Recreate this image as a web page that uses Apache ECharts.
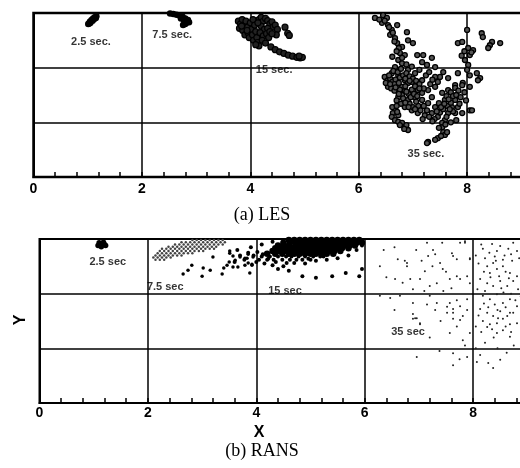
<!DOCTYPE html>
<html><head><meta charset="utf-8">
<script src="https://cdn.jsdelivr.net/npm/echarts@6/dist/echarts.min.js"></script>
<style>html,body{margin:0;padding:0;background:#fff}#c{width:520px;height:468px}</style>
</head><body><div id="c"></div><script>
// ---------- (a) LES ----------
const les25 = [[1.01,2.80],[1.04,2.84],[1.07,2.87],[1.10,2.90],[1.13,2.92],[1.16,2.94],[1.05,2.82],[1.09,2.86],[1.12,2.89],[1.03,2.81],[1.15,2.91]];
const les75 = [[2.52,2.99],[2.58,2.98],[2.64,2.97],[2.70,2.95],[2.75,2.93],[2.80,2.90],[2.85,2.87],[2.82,2.82],[2.78,2.86],[2.72,2.90],[2.87,2.83],[2.76,2.78],[2.80,2.80]];
const les15 = [[3.78,2.85],[3.82,2.80],[3.80,2.72],[3.85,2.88],[3.88,2.78],[3.86,2.68],[3.90,2.60],[3.92,2.85],[3.95,2.74],[3.96,2.64],[3.98,2.55],[4.00,2.82],[4.02,2.70],[4.04,2.60],[4.06,2.50],[4.08,2.78],[4.10,2.66],[4.12,2.55],[4.14,2.46],
 [4.16,2.88],[4.20,2.92],[4.24,2.85],[4.28,2.90],[4.32,2.86],[4.36,2.80],[4.40,2.84],[4.42,2.74],[4.46,2.78],[4.50,2.70],[4.20,2.76],[4.26,2.70],[4.32,2.72],[4.18,2.64],[4.24,2.58],[4.30,2.62],[4.36,2.66],[4.22,2.50],[4.28,2.45],[4.16,2.40],[4.10,2.42],[4.34,2.55],[4.48,2.60],[4.05,2.88],[3.84,2.76],[3.94,2.68],[4.14,2.82],[4.40,2.62],
 [4.38,2.38],[4.46,2.33],[4.54,2.29],[4.62,2.26],[4.70,2.23],[4.78,2.21],[4.86,2.19],[4.92,2.18],[4.96,2.19],[4.90,2.21],
 [4.64,2.74],[4.69,2.63],[4.72,2.59]];
const les35 = [
 [6.30,2.91],[6.45,2.96],[6.52,2.91],[6.43,2.82],[6.54,2.78],[6.61,2.69],[6.71,2.78],[6.58,2.60],[6.67,2.54],[6.71,2.45],[6.89,2.65],[6.91,2.50],[7.00,2.45],[6.80,2.38],[6.76,2.27],[6.85,2.23],[6.73,2.14],[7.08,2.23],[7.19,2.23],[7.35,2.18],[7.17,2.10],[7.26,2.05],[7.41,2.01],[7.56,1.92],[7.50,1.83],[7.65,1.81],[7.41,1.83],
 [6.38,2.88],[6.48,2.86],[6.56,2.74],[6.63,2.64],[6.66,2.48],[6.74,2.36],[6.70,2.30],[6.62,2.20],[6.80,2.18],
 [8.00,2.69],[8.27,2.63],[8.29,2.56],[8.46,2.47],[8.42,2.41],[8.39,2.36],[8.61,2.45],[7.83,2.45],[7.91,2.47],[8.02,2.36],[8.11,2.32],[8.05,2.23],[7.96,2.14],[8.02,2.05],[8.00,1.96],[8.05,1.86],[8.18,1.90],[8.24,1.81],[8.20,1.77],[7.83,1.90],[7.92,1.72],[7.78,1.68],[7.95,2.30],[8.08,2.28],[7.90,2.22],
 [6.48,1.83],[6.54,1.77],[6.67,2.01],[6.80,2.08],[6.91,1.96],[7.04,1.90],[7.17,1.77],[6.61,1.90],[6.73,1.86],[6.85,1.77],[6.98,1.74],[6.71,1.68],[6.54,1.65],[7.91,1.68],[7.78,1.63],[7.65,1.59],[7.54,1.54],[7.46,1.74],[7.41,1.65],[7.28,1.59],[7.17,1.54],[7.04,1.46],[6.91,1.41],[6.85,1.28],[6.98,1.22],[7.09,1.17],[7.22,1.13],[7.35,1.17],[7.46,1.10],[7.59,1.04],[7.54,0.99],[7.65,1.17],[7.78,1.17],[7.83,1.28],[7.91,1.17],[8.05,1.22],[7.72,1.28],[7.41,1.28],[7.28,1.35],[7.17,1.41],[7.59,1.41],[7.78,1.41],[7.09,1.59],[7.35,1.46],[6.85,1.59],[6.73,1.46],[6.91,1.72],[6.80,1.65],
 [6.50,1.72],[6.58,1.80],[6.62,1.74],[6.68,1.78],[6.76,1.82],[6.82,1.86],[6.88,1.90],[6.94,1.84],[7.00,1.80],[7.06,1.76],[7.12,1.70],[6.60,1.62],[6.66,1.58],[6.76,1.60],[6.86,1.66],[6.92,1.52],[6.98,1.60],[7.04,1.66],[6.80,1.50],[6.70,1.40],[6.78,1.34],[6.82,1.44],[6.94,1.34],[7.00,1.28],[7.10,1.30],[7.06,1.38],[7.14,1.22],[7.26,1.22],[7.30,1.10],[7.40,1.06],[7.50,1.18],[7.56,1.24],[7.64,1.30],[7.70,1.36],[7.48,1.35],[7.62,1.48],[7.70,1.55],[7.84,1.58],[7.74,1.20],[7.86,1.34],[7.20,1.62],[7.32,1.70],[7.36,1.78],[7.24,1.86],[7.30,1.92],[7.12,1.96],[6.98,2.02],[6.88,2.06],[7.18,1.06],[7.36,1.02],[7.62,1.10],[7.80,1.04],[7.70,1.00],
 [6.56,1.86],[6.64,1.94],[6.72,1.92],[6.78,1.98],[6.86,1.80],[6.94,1.76],[6.66,1.70],[6.74,1.72],[6.58,1.70],[6.68,1.64],[6.74,1.52],[6.88,1.56],[6.96,1.46],[7.02,1.52],[7.08,1.48],[7.12,1.62],[6.86,1.36],[6.92,1.28],[7.04,1.24],[7.20,1.30],[7.44,1.20],[7.52,1.28],[7.68,1.24],[7.58,1.34],[7.66,1.42],[7.74,1.48],[7.80,1.50],[7.88,1.46],
 [6.67,1.22],[6.63,1.17],[6.61,1.10],[6.67,1.04],[6.73,1.01],[6.80,0.99],[6.85,0.91],[6.91,0.86],[6.73,1.13],[6.71,1.19],[6.62,1.28],[6.70,1.30],[6.76,0.95],[6.88,0.95],[6.84,0.88],
 [7.54,0.91],[7.56,0.82],[7.59,0.77],[7.46,0.71],[7.41,0.68],[7.28,0.64],[7.63,0.82],[7.26,0.62],[7.52,0.75],[7.48,0.90],[7.60,0.96],
 [8.05,1.65],[8.09,1.22],[7.98,1.40],[7.95,1.55]];
const lesLabels = [[1.06,2.47,'2.5 sec.'],[2.56,2.59,'7.5 sec.'],[4.44,1.96,'15 sec.'],[7.24,0.42,'35 sec.']];

// ---------- (b) RANS ----------
const rans25 = [[1.08,2.88],[1.12,2.90],[1.16,2.91],[1.20,2.90],[1.14,2.86],[1.10,2.93],[1.18,2.94],[1.22,2.88]];
const rans75Gray = [
 [2.82,2.98],[2.90,2.98],[2.98,2.98],[3.06,2.98],[3.14,2.98],[3.22,2.98],[3.30,2.98],[3.38,2.98],
 [2.62,2.94],[2.70,2.94],[2.78,2.94],[2.86,2.94],[2.94,2.94],[3.02,2.94],[3.10,2.94],[3.18,2.94],[3.26,2.94],[3.34,2.94],[3.42,2.94],
 [2.50,2.90],[2.58,2.90],[2.66,2.90],[2.74,2.90],[2.82,2.90],[2.90,2.90],[2.98,2.90],[3.06,2.90],[3.14,2.90],[3.22,2.90],[3.30,2.90],[3.38,2.90],
 [2.38,2.86],[2.46,2.86],[2.54,2.86],[2.62,2.86],[2.70,2.86],[2.78,2.86],[2.86,2.86],[2.94,2.86],[3.02,2.86],[3.10,2.86],[3.18,2.86],[3.26,2.86],
 [2.26,2.82],[2.34,2.82],[2.42,2.82],[2.50,2.82],[2.58,2.82],[2.66,2.82],[2.74,2.82],[2.82,2.82],[2.90,2.82],[2.98,2.82],[3.06,2.82],[3.14,2.82],[3.22,2.82],
 [2.22,2.78],[2.30,2.78],[2.38,2.78],[2.46,2.78],[2.54,2.78],[2.62,2.78],[2.70,2.78],[2.78,2.78],[2.86,2.78],[2.94,2.78],[3.02,2.78],
 [2.18,2.74],[2.26,2.74],[2.34,2.74],[2.42,2.74],[2.50,2.74],[2.58,2.74],[2.66,2.74],[2.74,2.74],[2.82,2.74],
 [2.14,2.70],[2.22,2.70],[2.30,2.70],[2.38,2.70],[2.46,2.70],[2.54,2.70],[2.62,2.70],
 [2.10,2.66],[2.18,2.66],[2.26,2.66],[2.34,2.66],[2.42,2.66],
 [2.14,2.62],[2.22,2.62],[2.30,2.62]];
const rans75 = [[2.65,2.36],[2.74,2.43],[2.81,2.52],[3.00,2.32],[3.02,2.47],[3.15,2.43],[3.20,2.67],[3.37,2.36],[3.40,2.47],[3.46,2.52],[3.50,2.58],[3.51,2.74],[3.57,2.49],[3.61,2.61],[3.66,2.49],[3.70,2.67],[3.83,2.65],[3.85,2.56],[3.88,2.38],[3.94,2.67],[3.92,2.52],[3.79,2.52],[3.51,2.78],[3.57,2.69],[3.79,2.65],[3.85,2.72],[3.92,2.54]];
const rans15Core = [
 [4.60,2.98],[4.70,2.98],[4.80,2.98],[4.90,2.98],[5.00,2.98],[5.10,2.98],[5.20,2.98],[5.30,2.98],[5.40,2.98],[5.50,2.98],[5.60,2.98],[5.70,2.98],[5.80,2.98],[5.90,2.98],
 [4.50,2.93],[4.62,2.93],[4.75,2.93],[4.85,2.93],[4.95,2.93],[5.05,2.93],[5.15,2.93],[5.25,2.93],[5.35,2.93],[5.45,2.93],[5.55,2.93],[5.65,2.93],[5.75,2.93],[5.85,2.93],[5.95,2.93],
 [4.40,2.88],[4.50,2.88],[4.60,2.88],[4.72,2.88],[4.82,2.88],[4.92,2.88],[5.02,2.88],[5.12,2.88],[5.22,2.88],[5.32,2.88],[5.42,2.88],[5.52,2.88],[5.62,2.88],[5.72,2.88],[5.82,2.88],
 [4.35,2.83],[4.45,2.83],[4.55,2.83],[4.66,2.83],[4.78,2.83],[4.88,2.83],[4.98,2.83],[5.08,2.83],[5.18,2.83],[5.28,2.83],[5.38,2.83],[5.48,2.83],[5.58,2.83],[5.70,2.83],
 [4.30,2.78],[4.42,2.78],[4.52,2.78],[4.62,2.78],[4.74,2.78],[4.84,2.78],[4.94,2.78],[5.04,2.78],[5.14,2.78],[5.24,2.78],[5.34,2.78],[5.44,2.78],[5.55,2.78],
 [4.20,2.73],[4.35,2.73],[4.48,2.73],[4.60,2.73],[4.70,2.73],[4.80,2.73],[4.90,2.73],[5.00,2.73],[5.10,2.73],[5.20,2.73],[5.30,2.73],[5.42,2.73]];
const rans15Scatter = [
 [4.10,2.68],[4.25,2.68],[4.40,2.68],[4.55,2.68],[4.65,2.68],[4.78,2.68],[4.90,2.68],[5.05,2.68],[5.18,2.68],
 [4.05,2.62],[4.20,2.62],[4.32,2.62],[4.48,2.62],[4.62,2.62],[4.85,2.62],[5.00,2.62],
 [3.85,2.75],[3.95,2.70],[3.78,2.62],[4.00,2.58],[4.15,2.55],[4.30,2.52],[4.50,2.50],[4.70,2.56],[4.90,2.55],[5.10,2.60],[5.30,2.62],[5.50,2.65],[5.70,2.70],[5.85,2.80],[5.95,2.88],[4.85,2.32],[5.10,2.29],[5.40,2.32],[5.65,2.38],[5.90,2.32],[5.95,2.45],[4.60,2.42],[4.40,2.45],[3.70,2.70],[3.60,2.58],[3.90,2.85],[4.10,2.90],[4.30,2.95],[3.65,2.80],
 [4.02,2.76],[4.12,2.72],[4.22,2.64],[4.36,2.58],[4.56,2.56],[4.74,2.62],[4.96,2.64],[5.24,2.68]];
const rans35 = [
 [6.28,2.50],[6.56,2.27],[6.61,2.63],[6.74,2.60],[6.78,2.50],[6.84,2.27],[7.02,2.27],[7.11,2.41],[7.17,2.69],[7.30,2.72],[7.39,2.56],[7.44,2.45],[7.57,2.27],[7.63,2.69],[7.70,2.63],[7.70,2.32],[7.76,2.27],[7.85,2.96],[7.94,2.63],[7.89,2.32],[7.94,2.19],[7.20,2.14],[7.33,2.19],[6.89,2.08],[6.28,1.96],[6.47,1.92],[6.65,1.96],[6.89,1.83],[7.20,1.96],[7.33,1.83],[7.57,1.83],[7.63,1.72],[7.76,1.77],[7.63,1.54],[7.81,1.59],[7.89,1.90],[7.52,1.65],[6.89,1.63],[6.96,1.55],[6.89,1.54],[7.02,1.44],
 [8.18,2.82],[8.35,2.91],[8.44,2.78],[8.50,2.87],[8.74,2.93],[8.81,2.78],[8.26,2.50],[8.37,2.56],[8.44,2.45],[8.31,2.38],[8.55,2.50],[8.68,2.38],[8.81,2.32],[8.13,2.27],[8.26,2.19],[8.37,2.14],[8.50,2.23],[8.63,2.14],[8.74,2.23],[8.83,2.08],[8.18,1.96],[8.31,1.90],[8.44,1.99],[8.55,1.83],[8.68,1.90],[8.81,1.77],[8.13,1.72],[8.26,1.65],[8.37,1.59],[8.50,1.68],[8.63,1.59],[8.74,1.65],[8.18,1.50],[8.31,1.44],[8.44,1.46],[8.55,1.54],[8.68,1.44],
 [6.93,1.55],[7.02,1.46],[6.96,0.84],[7.63,0.91],[7.63,0.69],[7.89,0.84],[8.07,0.75],[8.13,0.88],[8.28,0.73],[8.37,0.64],[8.50,0.79],[7.57,1.28],[7.81,1.15],[7.94,1.28],[8.26,1.39],[8.44,1.28],[8.55,1.33],[8.68,1.21],[8.81,1.46],[7.52,1.76],[7.63,1.65],[7.76,1.52],[7.89,1.70],[8.68,1.65],[7.70,1.88],
 [7.15,2.93],[7.26,2.80],[6.78,2.56],[7.43,2.93],[7.61,2.74],[7.76,2.93],[7.85,2.93],[7.94,2.65],
 [8.05,2.70],[8.10,2.55],[8.22,2.65],[8.30,2.75],[8.40,2.68],[8.58,2.70],[8.65,2.82],[8.72,2.60],[8.85,2.65],[8.90,2.50],[8.90,2.85],[8.60,2.40],[8.48,2.32],[8.20,2.40],[8.08,2.08],[8.22,2.05],[8.56,2.02],[8.70,2.00],[8.88,1.95],[8.40,1.80],[8.20,1.82],[8.78,1.88],[8.10,1.60],[8.46,1.55],[8.90,1.60],[8.35,1.35],[8.60,1.40],[8.05,1.40],[8.92,1.30],[8.75,1.05],[8.22,1.10],[8.45,1.00],[8.05,1.00],[8.62,0.92],
 [6.35,2.80],[6.55,2.85],[6.95,2.80],[7.05,2.60],[7.25,2.50],[7.50,2.40],[7.60,2.10],[7.45,2.05],[7.10,2.05],[6.70,2.20],[6.40,2.30],[7.30,1.70],[7.15,1.80],[6.55,1.70],[7.40,1.50],[7.70,1.40],[7.85,1.05],[7.20,1.20],[7.38,0.95],[7.75,0.80],
 [8.15,2.90],[8.42,2.60],[8.55,2.62],[8.70,2.72],[8.32,2.30],[8.52,2.10],[8.66,2.28],[8.28,1.75],[8.60,1.75],[8.45,1.70],[8.15,1.30],[8.38,1.20],[8.70,1.30]];
const ransLabels = [[1.26,2.58,'2.5 sec'],[2.32,2.12,'7.5 sec'],[4.53,2.05,'15 sec'],[6.80,1.30,'35 sec']];

const xMin = 0, xMax = 10, xStep = 2, yMin = 0, yMax = 3, yStep = 1;

const chart = echarts.init(document.getElementById('c'), null, {renderer: 'canvas'});
const black = '#000';
function xAx(gi, margin) {
  return {gridIndex: gi, type: 'value', min: xMin, max: xMax, interval: xStep,
    axisLine: {show: true, onZero: false, lineStyle: {color: black, width: 2}},
    axisTick: {show: true, inside: true, length: 5, lineStyle: {color: black, width: 1.5}},
    minorTick: {show: true, splitNumber: 5, length: 5, lineStyle: {color: black, width: 1.5}},
    splitLine: {show: true, lineStyle: {color: black, width: 1.5}},
    axisLabel: {color: black, fontSize: 14, fontWeight: 'bold', fontFamily: 'Liberation Sans', margin: margin}};
}
function yAx(gi) {
  return {gridIndex: gi, type: 'value', min: yMin, max: yMax, interval: yStep,
    axisLine: {show: true, onZero: false, lineStyle: {color: black, width: 2}},
    axisTick: {show: false}, axisLabel: {show: false},
    splitLine: {show: true, lineStyle: {color: black, width: 1.5}}};
}
function sc(gi, data, size, color, border, bw, z) {
  return {type: 'scatter', xAxisIndex: gi, yAxisIndex: gi, data: data, symbolSize: size, z: z || 2,
    itemStyle: {color: color, borderColor: border || color, borderWidth: bw || 0, opacity: 1}};
}
function lab(gi, data, size) {
  return {type: 'scatter', xAxisIndex: gi, yAxisIndex: gi, data: data, symbolSize: 0, z: 5,
    label: {show: true, position: 'inside', formatter: p => p.value[2], color: black, fontSize: size, fontWeight: 'bold', fontFamily: 'Liberation Sans'}};
}
chart.setOption({
  animation: false,
  backgroundColor: '#fff',
  grid: [
    {left: 33.5, top: 13, width: 542, height: 164, show: true, borderColor: black, borderWidth: 2.5, backgroundColor: 'transparent', outerBoundsMode: 'none'},
    {left: 39.5, top: 239, width: 542, height: 164, show: true, borderColor: black, borderWidth: 2, backgroundColor: 'transparent', outerBoundsMode: 'none'}
  ],
  xAxis: [xAx(0, 5), xAx(1, 3)],
  yAxis: [yAx(0), yAx(1)],
  series: [
    sc(0, les25, 6.5, black),
    sc(0, les75, 6.5, black),
    sc(0, les15, 6, '#222', black, 1.2),
    sc(0, les35, 5, '#555', black, 1.3),
    lab(0, lesLabels, 11),
    sc(1, rans25, 5.5, black),
    sc(1, rans75Gray, 2.5, '#444'),
    sc(1, rans75, 3.5, black),
    sc(1, rans15Core, 6.5, black),
    sc(1, rans15Scatter, 4, black),
    sc(1, rans35, 2, '#222'),
    lab(1, ransLabels, 11)
  ],
  graphic: [
    {type: 'text', x: 262, y: 215, style: {text: '(a) LES', font: '18px "Liberation Serif"', fill: black, textAlign: 'center', textVerticalAlign: 'middle'}},
    {type: 'text', x: 259, y: 433, style: {text: 'X', font: 'bold 16px "Liberation Sans"', fill: black, textAlign: 'center', textVerticalAlign: 'middle'}},
    {type: 'text', x: 262, y: 451, style: {text: '(b) RANS', font: '18px "Liberation Serif"', fill: black, textAlign: 'center', textVerticalAlign: 'middle'}},
    {type: 'text', x: 21, y: 320, rotation: Math.PI / 2, style: {text: 'Y', font: 'bold 16px "Liberation Sans"', fill: black, textAlign: 'center', textVerticalAlign: 'middle'}}
  ]
});
</script></body></html>
